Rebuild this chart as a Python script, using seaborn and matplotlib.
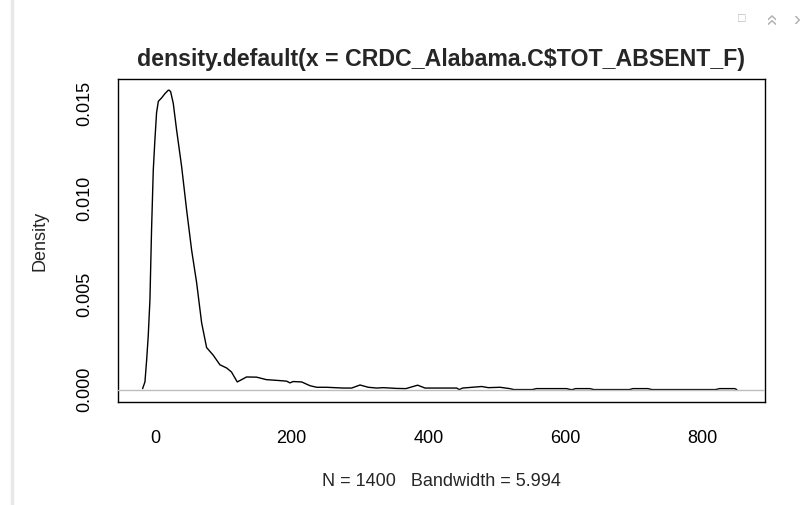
import matplotlib
matplotlib.use("Agg")
import matplotlib.pyplot as plt
import seaborn as sns
from matplotlib.lines import Line2D

# density curve (x = absences, y = density)
x_vals = [-18, -14.6, -12.2, -9.8, -7.3, -4.9, -2.4, 0, 2.4, 5, 9.8, 14.6,
          19.5, 21, 23, 26.8, 31.7, 39, 46.4, 53.7, 61, 68.3, 75.6, 85.3,
          95, 104.9, 112, 120.4, 126.8, 134, 148.8, 163, 182.9, 192.6,
          197.5, 202, 214.6, 227, 236.6, 251, 263, 275.5, 287.8, 300, 312,
          324.4, 334, 353.6, 367, 384.3, 395, 441.4, 445, 450, 478, 487.6,
          504.8, 519, 525, 552, 558, 602, 608, 611, 615, 636, 642, 694,
          699, 721, 727, 820, 826, 848, 851]
density = [0.00005, 0.0004, 0.0015, 0.0028, 0.0047, 0.0084, 0.0115, 0.0131,
           0.0145, 0.0151, 0.01528, 0.0155, 0.01568, 0.01568, 0.0156,
           0.0150, 0.0136, 0.0117, 0.0094, 0.0073, 0.0056, 0.0035, 0.0022,
           0.0018, 0.0013, 0.00113, 0.00092, 0.0004, 0.00052, 0.00066,
           0.00065, 0.00052, 0.00047, 0.00044, 0.00035, 0.00042, 0.0004,
           0.0002, 0.00012, 0.00012, 0.0001, 0.00008, 0.00008, 0.00024,
           0.00012, 0.00008, 0.0001, 0.00006, 0.00005, 0.00023, 0.00008,
           0.00008, 0.0, 0.00008, 0.00016, 0.0001, 0.00012, 0.00005, 0.0,
           0.0, 0.00005, 0.00005, 0.0, 0.0, 0.00005, 0.00005, 0.0, 0.0,
           0.00005, 0.00005, 0.0, 0.0, 0.00005, 0.00005, 0.0]

x_ticks = [0, 200, 400, 600, 800]
y_ticks = [0.000, 0.005, 0.010, 0.015]
title = "density.default(x = CRDC_Alabama.C$TOT_ABSENT_F)"
x_label = "N = 1400   Bandwidth = 5.994"

sns.set_style("white")
plt.rcParams["font.family"] = ["Liberation Sans", "DejaVu Sans"]

fig = plt.figure(figsize=(8, 5.05), dpi=100)
ax = fig.add_axes([0.1475, 0.204, 0.8085, 0.6396])

sns.lineplot(x=x_vals, y=density, color="black", linewidth=1.0, ax=ax,
             estimator=None, zorder=2)
ax.axhline(0, color="#bebebe", linewidth=1.0, zorder=3)

ax.set_xlim(-54, 892)
ax.set_ylim(-0.00065, 0.01627)
ax.set_xticks(x_ticks)
ax.set_yticks(y_ticks)
ax.set_yticklabels([f"{v:.3f}" for v in y_ticks], rotation=90, va="center")
ax.tick_params(axis="both", direction="out", length=8, width=0.9,
               color="black", labelsize=13, labelcolor="black")
ax.tick_params(axis="x", pad=12)
ax.tick_params(axis="y", pad=10)
for sp in ax.spines.values():
    sp.set_visible(True)
    sp.set_color("black")
    sp.set_linewidth(1.0)

ax.set_title(title, fontsize=16.7, fontweight="bold", pad=9)
ax.set_xlabel(x_label, fontsize=13)
ax.set_ylabel("Density", fontsize=13)
ax.xaxis.set_label_coords(0.5, -0.2477)
ax.xaxis.label.set_va("center")
ax.yaxis.set_label_coords(-0.1206, 0.5)
ax.yaxis.label.set_va("center")

# screenshot chrome: light bar at left, small icons top right
fig.add_artist(Line2D([11.5 / 800, 11.5 / 800], [0, 1], color="#e8e8e8",
                      linewidth=2.5, transform=fig.transFigure))
fig.text(742 / 800, 1 - 19 / 505, "\u25a1", color="#b8b8b8",
         fontsize=9, ha="center", va="center")
fig.text(772 / 800, 1 - 19 / 505, "\u00bb", rotation=90, color="#b0b0b0",
         fontsize=15, ha="center", va="center")
fig.text(797 / 800, 1 - 19 / 505, "\u203a", color="#b0b0b0",
         fontsize=15, ha="center", va="center")

fig.savefig("out.png", dpi=100)
